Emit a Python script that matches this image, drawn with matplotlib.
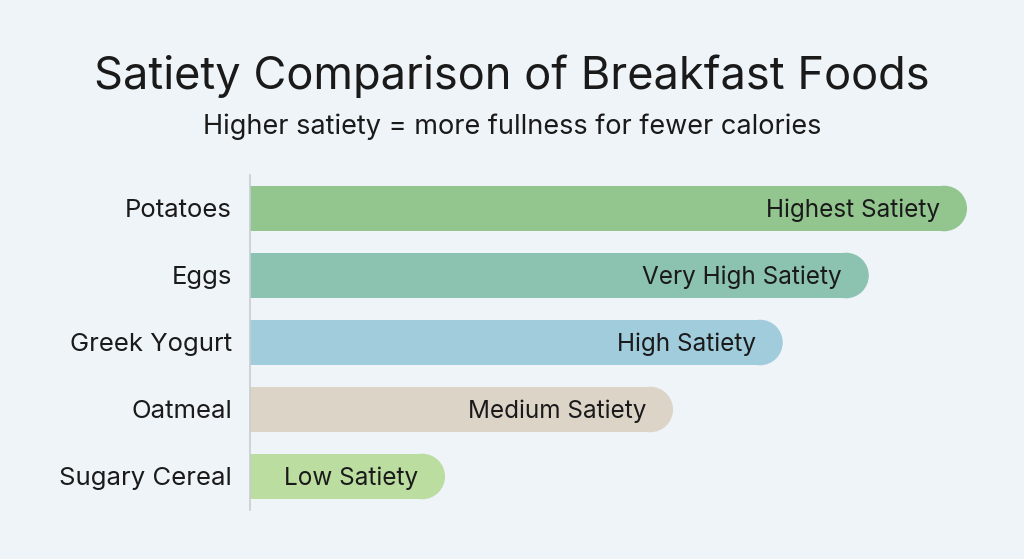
import matplotlib.pyplot as plt
from matplotlib.patches import Ellipse, Rectangle

plt.rcParams['font.family'] = ['Inter', 'DejaVu Sans']

foods = ["Potatoes", "Eggs", "Greek Yogurt", "Oatmeal", "Sugary Cereal"]
scores = [10.0, 8.63, 7.43, 5.9, 2.72]
labels = ["Highest Satiety", "Very High Satiety", "High Satiety", "Medium Satiety", "Low Satiety"]
colors = ["#93c58f", "#8cc2b0", "#a0ccdc", "#ddd4c8", "#bbdda0"]

W, H = 1024, 559
fig = plt.figure(figsize=(W / 100, H / 100), dpi=100)
fig.patch.set_facecolor("#eff4f8")

# axes box in pixels
left, right, top, bottom = 250, 1000, 175, 510
ax = fig.add_axes([left / W, 1 - bottom / H, (right - left) / W, (bottom - top) / H])
ax.set_facecolor("none")

xmax = 10.46
ax.set_xlim(0, xmax)
ax.set_ylim(len(foods) - 0.5, -0.5)

bar_h = 0.68
xpp = xmax / (right - left)          # x units per pixel
ypp = len(foods) / (bottom - top)    # y units per pixel
rx = (bar_h / 2) / ypp * xpp         # cap radius in x units

for i, (v, c, lab) in enumerate(zip(scores, colors, labels)):
    # flat body + round cap on the right
    ax.add_patch(Rectangle((0, i - bar_h / 2), v - rx, bar_h, fc=c, ec="none", lw=0))
    ax.add_patch(Ellipse((v - rx, i), 2 * rx, bar_h, fc=c, ec="none", lw=0))
    ax.text(v - 27 * xpp, i + 2 * ypp, lab, ha="right", va="center", fontsize=17.5, color="#1a1a1a")

ax.set_yticks(range(len(foods)))
ax.set_yticklabels(foods, fontsize=18.5, color="#1a1a1a")
ax.tick_params(axis="y", length=0, pad=13)
ax.set_xticks([])
for s in ["top", "right", "bottom"]:
    ax.spines[s].set_visible(False)
ax.spines["left"].set_color("#c8cdd2")
ax.spines["left"].set_linewidth(1.2)

fig.text(512 / W, 1 - 76 / H, "Satiety Comparison of Breakfast Foods",
         ha="center", va="center", fontsize=32.5, color="#1a1a1a")
fig.text(512 / W, 1 - 127 / H, "Higher satiety = more fullness for fewer calories",
         ha="center", va="center", fontsize=19.5, color="#1a1a1a")

fig.savefig("out.png", dpi=100, facecolor=fig.get_facecolor())
